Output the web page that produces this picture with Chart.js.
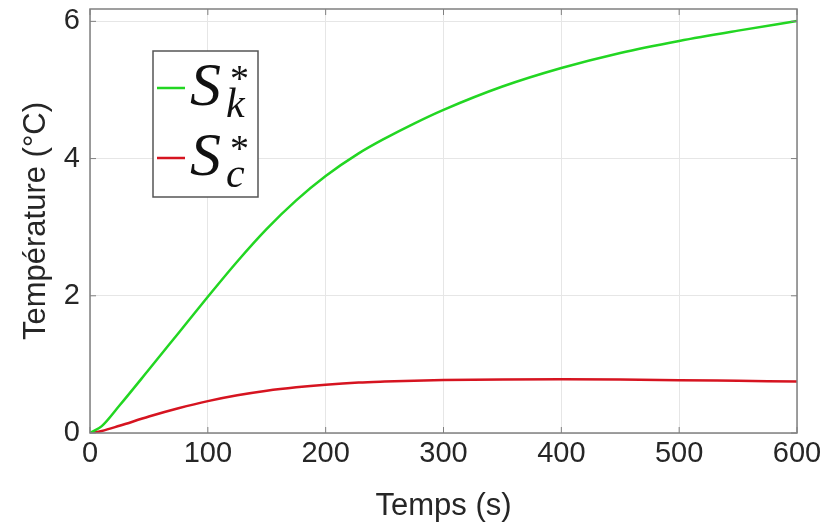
<!DOCTYPE html>
<html>
<head>
<meta charset="utf-8">
<title>Température</title>
<script src="https://cdn.jsdelivr.net/npm/chart.js@4.4.1/dist/chart.umd.min.js"></script>
<style>
  html, body { margin: 0; padding: 0; background: #fff; }
  #chart { display: block; }
</style>
</head>
<body>
<canvas id="chart" width="832" height="526"></canvas>
<script>
/*jslint browser:true, indent:2*/
/*globals Chart*/

// time (s) and the two temperature curves (°C)
var times = [0, 10, 25, 50, 75, 100, 125, 150, 175, 200, 228, 250, 275, 300, 350, 400, 450, 500, 550, 600];
var skValues = [0, 0.1, 0.4, 0.925, 1.455, 1.985, 2.5, 2.975, 3.39, 3.745, 4.075, 4.29, 4.51, 4.71, 5.05, 5.32, 5.54, 5.715, 5.865, 6.005];
var scValues = [0, 0.03, 0.105, 0.24, 0.36, 0.465, 0.55, 0.617, 0.667, 0.705, 0.736, 0.75, 0.762, 0.771, 0.78, 0.782, 0.778, 0.77, 0.76, 0.75];

var xTicks = [0, 100, 200, 300, 400, 500, 600];
var yTicks = [0, 2, 4, 6];

var seriesBase = ['S', 'S'];
var seriesSub = ['k', 'c'];
var seriesColors = ['rgb(34, 214, 34)', 'rgb(214, 20, 32)'];

(function () {
  'use strict';

  var ink, frameColor, toPoints, framePlugin, legendPlugin;

  ink = '#262626';
  frameColor = '#808080';

  toPoints = function (values) {
    return values.map(function (v, i) {
      return {x: times[i], y: v};
    });
  };

  // MATLAB style box with inward ticks on all four sides
  framePlugin = {
    id: 'frame',
    afterDraw: function (chart) {
      var ctx = chart.ctx, a = chart.chartArea, sx = chart.scales.x, sy = chart.scales.y, len = 6;
      ctx.save();
      ctx.strokeStyle = frameColor;
      ctx.lineWidth = 1.5;
      ctx.strokeRect(a.left, a.top, a.right - a.left, a.bottom - a.top);
      ctx.lineWidth = 1;
      ctx.beginPath();
      xTicks.forEach(function (t) {
        var px = sx.getPixelForValue(t);
        ctx.moveTo(px, a.bottom);
        ctx.lineTo(px, a.bottom - len);
        ctx.moveTo(px, a.top);
        ctx.lineTo(px, a.top + len);
      });
      yTicks.forEach(function (t) {
        var py = sy.getPixelForValue(t);
        ctx.moveTo(a.left, py);
        ctx.lineTo(a.left + len, py);
        ctx.moveTo(a.right, py);
        ctx.lineTo(a.right - len, py);
      });
      ctx.stroke();
      ctx.restore();
    }
  };

  // legend with LaTeX-like S^*_k labels
  legendPlugin = {
    id: 'texLegend',
    afterDraw: function (chart) {
      var ctx = chart.ctx, a = chart.chartArea, bx, by;
      bx = a.left + 63;
      by = a.top + 42;
      ctx.save();
      ctx.fillStyle = '#fff';
      ctx.fillRect(bx, by, 105, 146);
      ctx.strokeStyle = '#555';
      ctx.lineWidth = 1.5;
      ctx.strokeRect(bx, by, 105, 146);
      chart.data.datasets.forEach(function (ds, i) {
        var row = by + i * 70;
        ctx.strokeStyle = ds.borderColor;
        ctx.lineWidth = 2.5;
        ctx.beginPath();
        ctx.moveTo(bx + 4, row + 37);
        ctx.lineTo(bx + 32, row + 37);
        ctx.stroke();
        ctx.fillStyle = '#111';
        ctx.textBaseline = 'alphabetic';
        ctx.textAlign = 'left';
        ctx.font = 'italic 62px "Liberation Serif", "DejaVu Serif", serif';
        ctx.fillText(seriesBase[i], bx + 37, row + 54);
        ctx.font = '38px "Liberation Serif", "DejaVu Serif", serif';
        ctx.fillText('*', bx + 77, row + 40);
        ctx.font = 'italic 42px "Liberation Serif", "DejaVu Serif", serif';
        ctx.fillText(seriesSub[i], bx + 73, row + 66);
      });
      ctx.restore();
    }
  };

  new Chart(document.getElementById('chart').getContext('2d'), {
    type: 'line',
    data: {
      datasets: [
        {label: 'S*k', data: toPoints(skValues), borderColor: seriesColors[0]},
        {label: 'S*c', data: toPoints(scValues), borderColor: seriesColors[1]}
      ]
    },
    options: {
      responsive: false,
      animation: false,
      devicePixelRatio: 1,
      layout: {padding: {top: 9, right: 35, left: 0, bottom: 0}},
      elements: {
        point: {radius: 0},
        line: {borderWidth: 2.5, cubicInterpolationMode: 'monotone', fill: false}
      },
      plugins: {
        legend: {display: false},
        tooltip: {enabled: false}
      },
      scales: {
        x: {
          type: 'linear',
          min: 0,
          max: 600,
          afterFit: function (scale) { scale.height = 93; },
          ticks: {
            stepSize: 100,
            padding: 4,
            color: ink,
            font: {family: '"Liberation Sans", Arial, sans-serif', size: 29}
          },
          grid: {color: '#e6e6e6', drawTicks: false},
          border: {display: false},
          title: {
            display: true,
            text: 'Temps (s)',
            color: ink,
            padding: {top: 0, bottom: 1},
            font: {family: '"Liberation Sans", Arial, sans-serif', size: 31}
          }
        },
        y: {
          min: 0,
          max: 6.18,
          afterFit: function (scale) {
            scale.width = 90;
            scale.paddingTop = 0;
            scale.paddingBottom = 0;
          },
          ticks: {
            stepSize: 2,
            includeBounds: false,
            padding: 10,
            color: ink,
            font: {family: '"Liberation Sans", Arial, sans-serif', size: 29}
          },
          grid: {color: '#e6e6e6', drawTicks: false},
          border: {display: false},
          title: {
            display: true,
            text: 'Température (°C)',
            color: ink,
            padding: {top: 18, bottom: 0},
            font: {family: '"Liberation Sans", Arial, sans-serif', size: 31}
          }
        }
      }
    },
    plugins: [framePlugin, legendPlugin]
  });
}());
</script>
</body>
</html>
